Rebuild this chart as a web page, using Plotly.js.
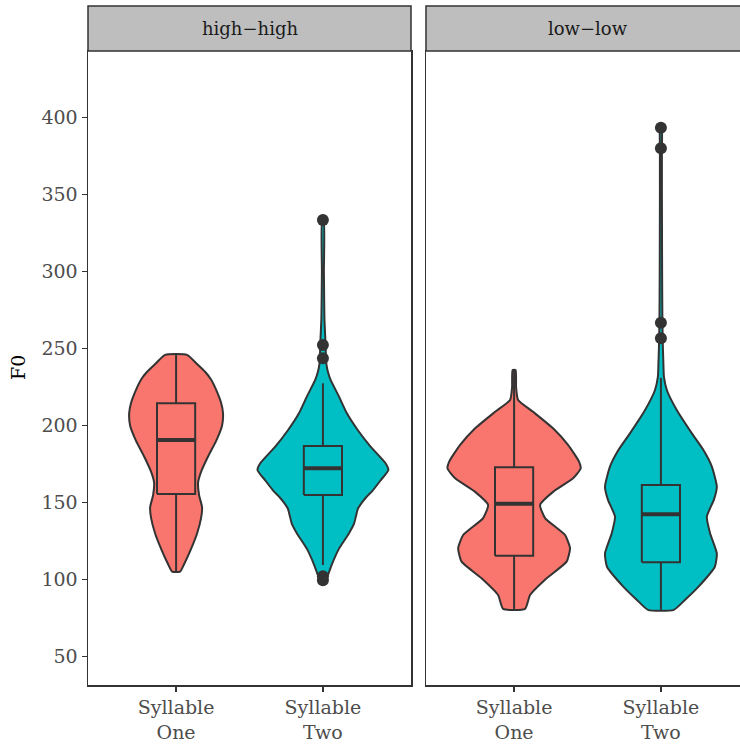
<!DOCTYPE html>
<html><head><meta charset="utf-8">
<script src="https://cdn.plot.ly/plotly-3.0.1.min.js"></script>
<style>html,body{margin:0;padding:0;overflow:hidden;background:#fff}</style>
</head><body><div id="chart" style="width:750px;height:745px"></div>
<script>
// ---- data ----
const facets = ['high−high', 'low−low'];
const categories = ['Syllable<br>One', 'Syllable<br>Two'];
const colors = ['#F8766D', '#00BFC4'];

// violin density profiles: F0 values and relative density (half width)
const hhOneF0 = [246, 240, 235, 230, 222, 215, 208, 200, 190, 180, 170, 163, 155, 147, 140, 130, 120, 110, 105.2];
const hhOneDens = [11, 21, 29, 35, 41, 45, 47, 46, 40, 32, 25, 22, 23, 26, 25, 21, 15, 8, 4];
const hhTwoF0 = [333, 300, 270, 255, 245, 240, 235, 229.7, 219, 208, 197, 186.4, 175.6, 171.2, 164.7, 158, 154, 150, 146, 141, 136, 130, 120, 110, 103, 99];
const hhTwoDens = [0.8, 1, 1.5, 2.5, 3, 3.5, 5, 7.7, 16, 24, 35, 47.7, 62.7, 65.5, 58, 50, 44, 39, 35, 33, 31, 26, 16, 9, 5, 2];
const llOneF0 = [236.2, 225, 216.7, 209, 198.3, 187.5, 176.7, 172.3, 165.8, 157, 148.5, 140, 129, 120.4, 111.7, 100.9, 90, 81];
const llOneDens = [1.5, 2, 4, 19, 39, 54, 65, 66.7, 59, 39, 26, 31, 51, 56, 52.6, 32.6, 16, 11];
const llTwoF0 = [394, 380, 350, 300, 266, 250, 240, 231.8, 223, 210, 195, 184, 173.4, 160.4, 151.8, 141, 130, 117, 108.4, 95.5, 86.8, 80.4];
const llTwoDens = [0.8, 1, 1, 1.2, 1.5, 2, 2.5, 3, 6, 16, 31, 42.7, 51, 56, 53, 46, 49.3, 56, 54, 37.7, 24, 13];

// box statistics [hhOne, hhTwo, llOne, llTwo]
const boxQ1 = [155.6, 155, 115.6, 111.3];
const boxMedian = [190.7, 172.3, 149.3, 142.5];
const boxQ3 = [214.5, 186.8, 173, 161.5];
const boxLow = [105.2, 109.5, 81, 80.4];
const boxHigh = [246, 227.5, 236.2, 231];

// outliers
const hhTwoOutliers = [333.6, 252.4, 243.8, 102.3, 99.6];
const llTwoOutliers = [393.5, 380.1, 266.9, 256.8];

const yTicks = [50, 100, 150, 200, 250, 300, 350, 400];

// ---- build ----
const densScale = 1 / 147;
const boxHalf = 0.13;
const FONT = 'DejaVu Serif, serif';
const dark = '#333333';

function violin(xa, ya, c, f0, d, color) {
  const xs = [], ys = [];
  for (let i = f0.length - 1; i >= 0; i--) { xs.push(c + d[i] * densScale); ys.push(f0[i]); }
  for (let i = 0; i < f0.length; i++) { xs.push(c - d[i] * densScale); ys.push(f0[i]); }
  xs.push(xs[0]); ys.push(ys[0]);
  return {type: 'scatter', mode: 'lines', x: xs, y: ys, xaxis: xa, yaxis: ya,
    fill: 'toself', fillcolor: color,
    line: {color: dark, width: 2, shape: 'spline', smoothing: 0.5},
    hoverinfo: 'skip', showlegend: false};
}
function boxTraces(xa, ya, c, i, color) {
  const common = {type: 'scatter', mode: 'lines', xaxis: xa, yaxis: ya, showlegend: false, hoverinfo: 'skip'};
  return [
    Object.assign({}, common, {x: [c, c, null, c, c], y: [boxQ3[i], boxHigh[i], null, boxQ1[i], boxLow[i]],
      line: {color: dark, width: 2}}),
    Object.assign({}, common, {x: [c - boxHalf, c + boxHalf, c + boxHalf, c - boxHalf, c - boxHalf],
      y: [boxQ1[i], boxQ1[i], boxQ3[i], boxQ3[i], boxQ1[i]], fill: 'toself', fillcolor: color,
      line: {color: dark, width: 2}}),
    Object.assign({}, common, {x: [c - boxHalf, c + boxHalf], y: [boxMedian[i], boxMedian[i]],
      line: {color: dark, width: 4}})
  ];
}
function outliers(xa, ya, c, vals) {
  return {type: 'scatter', mode: 'markers', x: vals.map(() => c), y: vals, xaxis: xa, yaxis: ya,
    marker: {color: dark, size: 12}, showlegend: false, hoverinfo: 'skip'};
}

const traces = [
  violin('x', 'y', 1, hhOneF0, hhOneDens, colors[0]),
  violin('x', 'y', 2, hhTwoF0, hhTwoDens, colors[1]),
  violin('x2', 'y2', 1, llOneF0, llOneDens, colors[0]),
  violin('x2', 'y2', 2, llTwoF0, llTwoDens, colors[1]),
  ...boxTraces('x', 'y', 1, 0, colors[0]), ...boxTraces('x', 'y', 2, 1, colors[1]),
  ...boxTraces('x2', 'y2', 1, 2, colors[0]), ...boxTraces('x2', 'y2', 2, 3, colors[1]),
  outliers('x', 'y', 2, hhTwoOutliers), outliers('x2', 'y2', 2, llTwoOutliers)
];

const plotH = 634, stripH = 45;
const d1 = [0, 323 / 661], d2 = [338 / 661, 1];
const xBase = {range: [0.4, 2.6], tickvals: [1, 2], ticktext: categories, ticks: 'outside', ticklen: 5,
  tickwidth: 1.5, tickcolor: dark, showline: true, mirror: true, linecolor: dark, linewidth: 1.5,
  showgrid: false, zeroline: false, tickfont: {family: FONT, size: 19, color: '#4d4d4d'}, fixedrange: true};
const yRange = [31.6, 443.3];

const layout = {
  width: 750, height: 745, margin: {l: 88, r: 1, t: 51, b: 60},
  paper_bgcolor: '#fff', plot_bgcolor: '#fff', showlegend: false,
  font: {family: FONT},
  xaxis: Object.assign({}, xBase, {domain: d1, anchor: 'y'}),
  xaxis2: Object.assign({}, xBase, {domain: d2, anchor: 'y2'}),
  yaxis: {range: yRange, tickvals: yTicks, ticks: 'outside', ticklen: 5, tickwidth: 1.5, tickcolor: dark,
    showline: true, mirror: true, linecolor: dark, linewidth: 1.5, showgrid: false, zeroline: false,
    tickfont: {family: FONT, size: 19, color: '#4d4d4d'}, anchor: 'x'},
  yaxis2: {range: yRange, matches: 'y', showticklabels: false, ticks: '', showline: true, mirror: true,
    linecolor: dark, linewidth: 1.5, showgrid: false, zeroline: false, anchor: 'x2'},
  shapes: [d1, d2].map(d => ({type: 'rect', xref: 'paper', yref: 'paper', x0: d[0], x1: d[1],
    y0: 1, y1: 1 + stripH / plotH, fillcolor: '#bebebe', line: {color: dark, width: 1.5}, layer: 'above'})),
  annotations: [d1, d2].map((d, i) => ({xref: 'paper', yref: 'paper', x: (d[0] + d[1]) / 2,
    y: 1 + stripH / 2 / plotH, text: facets[i], showarrow: false, xanchor: 'center', yanchor: 'middle',
    font: {family: FONT, size: 18, color: '#1a1a1a'}})).concat([{
    xref: 'paper', yref: 'paper', x: (18 - 88) / 661, y: 0.5 + (0 / plotH), text: 'F0', textangle: -90,
    showarrow: false, xanchor: 'center', yanchor: 'middle', font: {family: FONT, size: 19, color: '#000'}}])
};

Plotly.newPlot('chart', traces, layout, {displayModeBar: false, staticPlot: true});
</script></body></html>
